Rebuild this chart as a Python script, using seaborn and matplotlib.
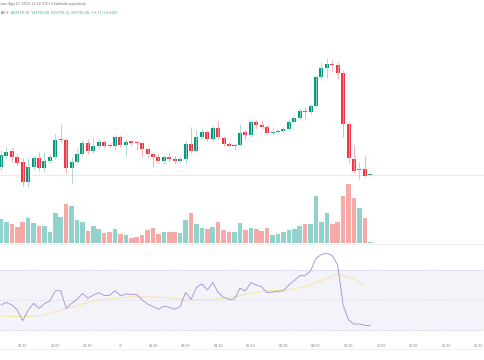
import matplotlib
matplotlib.use("Agg")
import matplotlib.pyplot as plt
from matplotlib.lines import Line2D
import seaborn as sns
import pandas as pd
import numpy as np

# 15 dakikalık mumlar, 16 Ağu 18:30 -> 17 Ağu 11:30
opens = [23804, 23865, 23892, 23859, 23832, 23722, 23804, 23854, 23799, 23837,
         23859, 23953, 23953, 23799, 23832, 23876, 23936, 23892, 23920, 23942,
         23925, 23920, 23969, 23925, 23947, 23942, 23936, 23903, 23876, 23859,
         23837, 23859, 23848, 23837, 23848, 23931, 23892, 23969, 23997, 23958,
         24019, 23964, 23931, 23920, 23925, 23997, 23980, 24052, 24035, 24024,
         23991, 23997, 24002, 24013, 24052, 24074, 24112, 24107, 24140, 24299,
         24349, 24371, 24365, 24321, 24041, 23848, 23787, 23793, 23759.78]
highs = [23898, 23920, 23914, 23876, 23854, 23854, 23870, 23887, 23887, 23876,
         23986, 24041, 23964, 23859, 23909, 23953, 23958, 23964, 23958, 23953,
         23936, 23980, 23980, 23953, 23953, 23947, 23942, 23914, 23887, 23876,
         23870, 23881, 23865, 23859, 23947, 24024, 24008, 24019, 24008, 24030,
         24057, 23975, 23942, 23936, 24041, 24008, 24063, 24063, 24063, 24035,
         24024, 24013, 24024, 24068, 24085, 24129, 24134, 24151, 24310, 24382,
         24404, 24393, 24382, 24338, 24052, 23925, 23832, 23865, 23766.09]
lows = [23788, 23854, 23832, 23815, 23700, 23694, 23788, 23782, 23777, 23826,
        23848, 23936, 23771, 23716, 23821, 23865, 23876, 23881, 23909, 23909,
        23909, 23898, 23914, 23865, 23925, 23898, 23859, 23854, 23804, 23826,
        23821, 23832, 23821, 23832, 23821, 23881, 23887, 23958, 23947, 23947,
        23958, 23920, 23914, 23898, 23920, 23953, 23969, 24019, 24013, 23986,
        23986, 23991, 23997, 24008, 24046, 24063, 24068, 24096, 24134, 24283,
        24294, 24327, 24288, 23969, 23826, 23771, 23738, 23749, 23756.13]
closes = [23870, 23887, 23859, 23826, 23722, 23804, 23854, 23799, 23837, 23859,
          23953, 23958, 23799, 23832, 23876, 23936, 23892, 23920, 23942, 23920,
          23920, 23969, 23925, 23942, 23936, 23936, 23903, 23876, 23859, 23837,
          23859, 23848, 23837, 23848, 23931, 23892, 23969, 23997, 23958, 24019,
          23969, 23931, 23920, 23925, 23991, 23980, 24052, 24035, 24024, 23991,
          23997, 24002, 24013, 24052, 24074, 24112, 24107, 24140, 24299, 24349,
          24371, 24365, 24321, 24041, 23854, 23782, 23793, 23755, 23761.95]
volume = [73, 63, 58, 48, 62, 76, 60, 51, 51, 34, 91, 78, 116, 112, 70, 62, 37, 52,
          41, 30, 33, 43, 26, 25, 15, 18, 23, 38, 46, 28, 34, 34, 34, 31, 70, 90,
          58, 45, 41, 49, 63, 39, 33, 34, 61, 38, 45, 42, 37, 45, 23, 26, 34, 38,
          42, 50, 56, 56, 142, 64, 90, 58, 63, 142, 176, 135, 104, 76, 2]
rsi = [46.7, 48.4, 46.7, 43.3, 36.2, 43.3, 47.8, 44.4, 47.6, 49.3,
       56.2, 56.2, 44.4, 47.8, 50.4, 54.4, 51.1, 53.3, 54.9, 53.1,
       53.1, 56.2, 52.9, 54.0, 53.8, 53.6, 50.0, 47.3, 45.6, 43.8,
       46.0, 45.1, 43.8, 45.6, 55.1, 50.4, 58.4, 60.7, 56.7, 61.6,
       54.9, 51.8, 50.4, 50.7, 57.8, 56.0, 61.6, 60.0, 58.9, 54.9,
       55.3, 55.8, 56.2, 60.0, 62.9, 66.2, 66.2, 69.3, 77.8, 80.4,
       81.1, 79.6, 73.3, 46.7, 36.7, 34.0, 34.0, 33.1, 32.9]
# RSI tabanlı MA (okunan noktalar)
ma_idx = [0, 4, 8, 12, 16, 18, 24, 30, 34, 39, 43, 46, 49, 52, 56, 59, 62, 65, 67]
ma_vals = [39.3, 38.9, 40.0, 44.4, 48.2, 50.0, 52.2, 51.8, 50.0, 50.4, 52.2, 54.4,
           56.2, 56.2, 58.9, 62.9, 67.3, 63.8, 59.3]
tick_labels = ["19:30", "21:00", "22:30", "17", "01:30", "03:00", "04:30", "06:00",
               "07:30", "09:00", "10:30", "12:00", "13:30", "15:00", "16:30"]

UP, DOWN = "#089981", "#f23645"
UP_WICK, DOWN_WICK = "#9fd6cb", "#f5a3aa"
UP_VOL, DOWN_VOL = "#92d2cc", "#f7a9a7"

idx = np.arange(len(opens))
o, h, l, c = map(np.array, (opens, highs, lows, closes))
up = c >= o

sns.set_theme(style="white")
plt.rcParams['font.family'] = ['DejaVu Sans']

W, H = 485, 360
fig = plt.figure(figsize=(W / 100, H / 100), dpi=100)


def box(top, bottom):
    return [0, 1 - bottom / H, 1, (bottom - top) / H]


ax_vol = fig.add_axes(box(183, 243))
ax_px = fig.add_axes(box(20, 243))
ax_rsi = fig.add_axes(box(244, 338))
ax_px.patch.set_alpha(0)
ax_vol.set_zorder(0)
ax_px.set_zorder(1)

xlim = (-0.184, 89.13)

# hacim
vol_df = pd.DataFrame({"idx": idx, "volume": volume,
                       "yon": np.where(up, "up", "down")})
sns.barplot(data=vol_df, x="idx", y="volume", hue="yon",
            palette={"up": UP_VOL, "down": DOWN_VOL}, native_scale=True,
            dodge=False, width=0.84, saturation=1, errorbar=None,
            legend=False, edgecolor="none", ax=ax_vol)
ax_vol.set_ylim(0, 180)

# mumlar
ax_px.vlines(idx, l, h, colors=np.where(up, UP_WICK, DOWN_WICK), linewidth=0.6)
body = np.maximum(np.abs(c - o), 5)
ax_px.bar(idx, body, bottom=np.minimum(o, c), width=0.74,
          color=np.where(up, UP, DOWN), linewidth=0)
ax_px.axhline(closes[-1], color="#dfe1e6", linewidth=0.5, zorder=0)
ax_px.set_ylim(23386, 24612)

# RSI
ax_rsi.axhspan(30, 70, color="#7e57c2", alpha=0.07, linewidth=0)
for lvl, col in [(70, "#bdb5d8"), (30, "#bdb5d8"), (50, "#d6d1ea")]:
    ax_rsi.axhline(lvl, color=col, linewidth=0.5, linestyle=(0, (2, 2)))
sns.lineplot(x=ma_idx, y=ma_vals, ax=ax_rsi, color="#f1e8a6", linewidth=0.8)
sns.lineplot(x=idx, y=rsi, ax=ax_rsi, color="#9a8fd4", linewidth=0.6)
ax_rsi.set_ylim(24.7, 87.3)

for ax in (ax_vol, ax_px, ax_rsi):
    ax.set_xlim(*xlim)
    ax.set_xlabel("")
    ax.set_ylabel("")
    ax.set_yticks([])
    for s in ax.spines.values():
        s.set_visible(False)
ax_vol.set_xticks([])
ax_px.set_xticks([])
ax_rsi.set_xticks(range(4, 4 + 6 * len(tick_labels), 6))
ax_rsi.set_xticklabels(tick_labels, fontsize=2.3, color="#787b86")
ax_rsi.tick_params(axis="x", length=0, pad=4.5)

# ayırıcı çizgiler
for ypx in (243.5, 349):
    fig.add_artist(Line2D([0, 1], [1 - ypx / H] * 2, color="#ececec", linewidth=0.5))

# başlık
fig.text(0.001, 1 - 4.3 / H, "coin, Ağu 17, 2022 11:30 UTC+3 tarihinde yayınlandı",
         fontsize=2.3, color="#6a6d78", va="center", ha="left")
fig.text(0.001, 1 - 12.7 / H, "ARCE", fontsize=2.3, color="#6a6d78",
         va="center", ha="left")
fig.text(11.5 / W, 1 - 12.7 / H,
         "A23759.78  Y23766.09  D23756.13  K23761.95  +3.71 (+0.02%)",
         fontsize=2.3, color="#26a69a", va="center", ha="left")

fig.savefig("out.png", dpi=100)
